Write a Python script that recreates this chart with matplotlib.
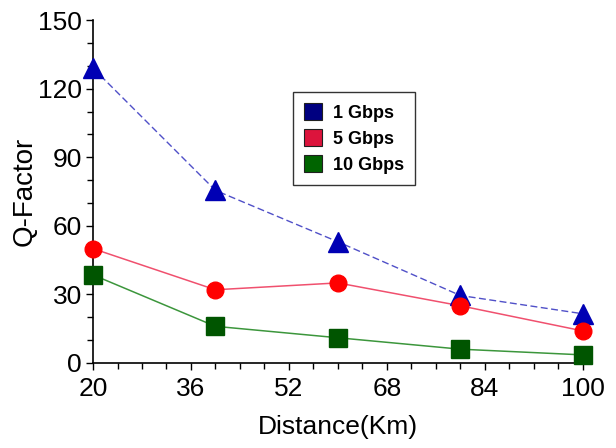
#!/usr/bin/env python3
"""Q-Factor vs distance for three bit rates."""

import matplotlib
matplotlib.use('Agg')
import matplotlib.pyplot as plt
from matplotlib.ticker import MultipleLocator

# Data
DISTANCE = [20, 40, 60, 80, 100]
Q_1GBPS = [129, 75.5, 53, 29.5, 21.5]
Q_5GBPS = [50, 32, 35, 25, 14]
Q_10GBPS = [38.5, 16, 11, 6, 3.5]
LABELS = ['1 Gbps', '5 Gbps', '10 Gbps']
X_TICKS = [20, 36, 52, 68, 84, 100]
Y_TICKS = [0, 30, 60, 90, 120, 150]

OUTPUT_FILE = 'out.png'

plt.rcParams['font.family'] = ['Liberation Sans', 'DejaVu Sans']

fig = plt.figure(figsize=(6.16, 4.48), dpi=100)
ax = fig.add_axes([0.151, 0.19, 0.795, 0.765])

# lines first, markers on top
ax.plot(DISTANCE, Q_1GBPS, color='#5050c8', lw=1, ls=(0, (5, 2.5)), zorder=2)
ax.plot(DISTANCE, Q_5GBPS, color='#f0506e', lw=1.1, zorder=2)
ax.plot(DISTANCE, Q_10GBPS, color='#3c963c', lw=1.1, zorder=2)

ax.plot(DISTANCE, Q_1GBPS, ls='none', marker='^', ms=15, color='#0000b4',
        mec='#0000b4', zorder=3, clip_on=False)
ax.plot(DISTANCE, Q_5GBPS, ls='none', marker='o', ms=12, color='#ff0000',
        mec='#ff0000', zorder=3, clip_on=False)
ax.plot(DISTANCE, Q_10GBPS, ls='none', marker='s', ms=13, color='#005500',
        mec='#005500', zorder=3, clip_on=False)

ax.set_xlim(20, 100)
ax.set_ylim(0, 150)
ax.set_xticks(X_TICKS)
ax.set_yticks(Y_TICKS)
ax.xaxis.set_minor_locator(MultipleLocator(4))
ax.yaxis.set_minor_locator(MultipleLocator(10))
ax.tick_params(axis='both', which='major', direction='out', length=5,
               width=1, labelsize=19)
ax.tick_params(axis='x', which='major', pad=5)
ax.tick_params(axis='y', which='major', pad=3)
ax.tick_params(axis='both', which='minor', direction='out', length=4, width=1)

for side in ['top', 'right']:
    ax.spines[side].set_visible(False)
for side in ['left', 'bottom']:
    ax.spines[side].set_linewidth(1.2)

ax.set_xlabel('Distance(Km)', fontsize=19, labelpad=10)
ax.set_ylabel('Q-Factor', fontsize=20, labelpad=0)

# legend with plain squares
handles = [
    plt.Rectangle((0, 0), 1, 1, facecolor='#000080', edgecolor='#202020', lw=0.8),
    plt.Rectangle((0, 0), 1, 1, facecolor='#dc143c', edgecolor='#202020', lw=0.8),
    plt.Rectangle((0, 0), 1, 1, facecolor='#006400', edgecolor='#202020', lw=0.8),
]
leg = ax.legend(handles, LABELS, loc='upper left', bbox_to_anchor=(0.408, 0.79),
                prop={'weight': 'bold', 'size': 13}, frameon=True, fancybox=False,
                edgecolor='black', handlelength=1.0, handleheight=1.1,
                handletextpad=0.6, labelspacing=0.4, borderpad=0.6,
                borderaxespad=0)
leg.get_frame().set_linewidth(1)

plt.savefig(OUTPUT_FILE, dpi=100, facecolor='white')
plt.close()
